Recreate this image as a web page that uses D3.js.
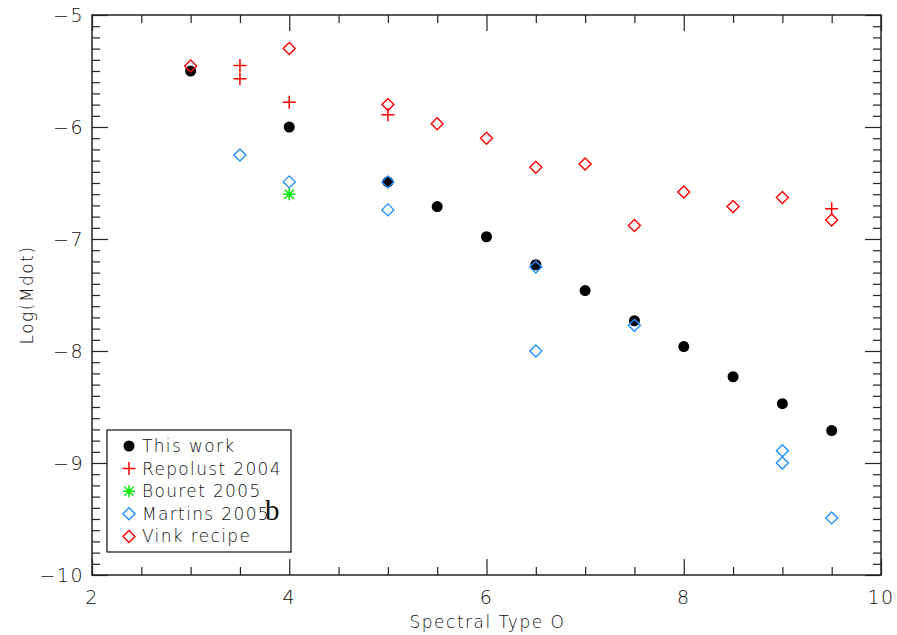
<!DOCTYPE html>
<html>
<head>
<meta charset="utf-8">
<script src="https://cdn.jsdelivr.net/npm/d3@7"></script>
<style>
  html, body { margin: 0; padding: 0; background: #fff; }
  svg text { font-family: "DejaVu Sans", "Liberation Sans", sans-serif; font-weight: 200; }
</style>
</head>
<body>
<svg id="chart" width="897" height="635"></svg>
<script>
// ---- data ----
const thisWorkX = [3, 4, 5, 5.5, 6, 6.5, 7, 7.5, 8, 8.5, 9, 9.5];
const thisWorkY = [-5.50, -6.00, -6.49, -6.71, -6.98, -7.23, -7.46, -7.73, -7.96, -8.23, -8.47, -8.71];

const repolustX = [3.5, 3.5, 4, 5, 9.5];
const repolustY = [-5.45, -5.57, -5.78, -5.89, -6.73];

const bouretX = [4];
const bouretY = [-6.60];

const martinsX = [3.5, 4, 5, 5, 6.5, 6.5, 7.5, 9, 9, 9.5];
const martinsY = [-6.25, -6.49, -6.49, -6.74, -7.25, -8.00, -7.77, -8.89, -9.00, -9.49];

const vinkX = [3, 4, 5, 5.5, 6, 6.5, 7, 7.5, 8, 8.5, 9, 9.5];
const vinkY = [-5.455, -5.30, -5.80, -5.97, -6.10, -6.36, -6.33, -6.88, -6.58, -6.71, -6.63, -6.83];

const xTicks = [2, 4, 6, 8, 10];
const yTicks = [-5, -6, -7, -8, -9, -10];
const legendLabels = ["This work", "Repolust 2004", "Bouret 2005", "Martins 2005", "Vink recipe"];
const xTitle = "Spectral Type O";
const yTitle = "Log(Mdot)";

// ---- layout ----
const svg = d3.select("#chart");
const L = 92, R = 881, T = 15, B = 575;
const x = d3.scaleLinear().domain([2, 10]).range([L, R]);
const y = d3.scaleLinear().domain([-10, -5]).range([B, T]);

const frameColor = "#222";
const textColor = "#111";
const majorLen = 16, minorLen = 8;

// minor ticks
const xMinor = d3.range(2, 10.0001, 0.5).filter(v => !xTicks.includes(v));
const yMinor = d3.range(-10, -4.999, 0.1).map(v => +v.toFixed(2)).filter(v => !yTicks.includes(v));

function fmt(d) { return d < 0 ? "\u2212" + Math.abs(d) : String(d); }

const gx = svg.append("g").attr("transform", `translate(0,${B})`)
  .call(d3.axisTop(x).tickValues(xTicks).tickSize(majorLen).tickFormat(""));
const gxm = svg.append("g").attr("transform", `translate(0,${B})`)
  .call(d3.axisTop(x).tickValues(xMinor).tickSize(minorLen).tickFormat(""));
const gxt = svg.append("g").attr("transform", `translate(0,${T})`)
  .call(d3.axisBottom(x).tickValues(xTicks).tickSize(majorLen).tickFormat(""));
const gxtm = svg.append("g").attr("transform", `translate(0,${T})`)
  .call(d3.axisBottom(x).tickValues(xMinor).tickSize(minorLen).tickFormat(""));
const gy = svg.append("g").attr("transform", `translate(${L},0)`)
  .call(d3.axisRight(y).tickValues(yTicks).tickSize(majorLen).tickFormat(""));
const gym = svg.append("g").attr("transform", `translate(${L},0)`)
  .call(d3.axisRight(y).tickValues(yMinor).tickSize(minorLen).tickFormat(""));
const gyr = svg.append("g").attr("transform", `translate(${R},0)`)
  .call(d3.axisLeft(y).tickValues(yTicks).tickSize(majorLen).tickFormat(""));
const gyrm = svg.append("g").attr("transform", `translate(${R},0)`)
  .call(d3.axisLeft(y).tickValues(yMinor).tickSize(minorLen).tickFormat(""));

[gx, gxm, gxt, gxtm, gy, gym, gyr, gyrm].forEach(g => {
  g.select(".domain").remove();
  g.selectAll(".tick line").attr("stroke", frameColor).attr("stroke-width", 1.2);
});

// frame
svg.append("rect").attr("x", L).attr("y", T).attr("width", R - L).attr("height", B - T)
  .attr("fill", "none").attr("stroke", frameColor).attr("stroke-width", 1.5);

// tick labels
const labelStyle = sel => sel.attr("font-size", 19).attr("fill", textColor).attr("letter-spacing", 1.5);
svg.append("g").selectAll("text").data(xTicks).join("text")
  .attr("x", d => x(d)).attr("y", B + 29).attr("text-anchor", "middle")
  .text(d => d).call(labelStyle);
svg.append("g").selectAll("text").data(yTicks).join("text")
  .attr("x", L - 8).attr("y", d => y(d) + 7).attr("text-anchor", "end")
  .text(fmt).call(labelStyle);

// axis titles
svg.append("text").attr("x", (L + R) / 2 + 1).attr("y", B + 53).attr("text-anchor", "middle")
  .attr("font-size", 17).attr("letter-spacing", 1.5).attr("fill", textColor).text(xTitle);
svg.append("text").attr("transform", `translate(33,${(T + B) / 2}) rotate(-90)`)
  .attr("text-anchor", "middle").attr("font-size", 17).attr("letter-spacing", 1.5)
  .attr("fill", textColor).text(yTitle);

// ---- marks ----
const RED = "#ff0000", BLUE = "#1e8fff", GREEN = "#00ee00";
const diamond = (cx, cy, r) => `M${cx},${cy - r}L${cx + r},${cy}L${cx},${cy + r}L${cx - r},${cy}Z`;
const plus = (cx, cy, r) => `M${cx - r},${cy}H${cx + r}M${cx},${cy - r}V${cy + r}`;
const star = (cx, cy, r) => {
  let p = plus(cx, cy, r);
  const a = r * 0.75;
  p += `M${cx - a},${cy - a}L${cx + a},${cy + a}M${cx - a},${cy + a}L${cx + a},${cy - a}`;
  return p;
};

const zip = (xs, ys) => xs.map((v, i) => [v, ys[i]]);

svg.append("g").selectAll("circle").data(zip(thisWorkX, thisWorkY)).join("circle")
  .attr("cx", d => x(d[0])).attr("cy", d => y(d[1])).attr("r", 5.5).attr("fill", "#000");

svg.append("g").selectAll("path").data(zip(martinsX, martinsY)).join("path")
  .attr("d", d => diamond(x(d[0]), y(d[1]), 6)).attr("fill", "none")
  .attr("stroke", BLUE).attr("stroke-width", 1.4);

svg.append("g").selectAll("path").data(zip(vinkX, vinkY)).join("path")
  .attr("d", d => diamond(x(d[0]), y(d[1]), 6)).attr("fill", "none")
  .attr("stroke", RED).attr("stroke-width", 1.4);

svg.append("g").selectAll("path").data(zip(repolustX, repolustY)).join("path")
  .attr("d", d => plus(x(d[0]), y(d[1]), 6.5)).attr("fill", "none")
  .attr("stroke", RED).attr("stroke-width", 1.5);

svg.append("g").selectAll("path").data(zip(bouretX, bouretY)).join("path")
  .attr("d", d => star(x(d[0]), y(d[1]), 6)).attr("fill", "none")
  .attr("stroke", GREEN).attr("stroke-width", 1.5);

// ---- legend ----
const lg = svg.append("g");
lg.append("rect").attr("x", 107).attr("y", 430).attr("width", 184).attr("height", 122)
  .attr("fill", "#fff").attr("stroke", frameColor).attr("stroke-width", 1.3);
const rowY = i => 446 + i * 22.6;
const symX = 129;
legendLabels.forEach((lab, i) => {
  const cy = rowY(i);
  if (i === 0) lg.append("circle").attr("cx", symX).attr("cy", cy).attr("r", 5.5).attr("fill", "#000");
  if (i === 1) lg.append("path").attr("d", plus(symX, cy, 6.5)).attr("stroke", RED).attr("stroke-width", 1.5);
  if (i === 2) lg.append("path").attr("d", star(symX, cy, 6)).attr("stroke", GREEN).attr("stroke-width", 1.5);
  if (i === 3) lg.append("path").attr("d", diamond(symX, cy, 6)).attr("fill", "none").attr("stroke", BLUE).attr("stroke-width", 1.4);
  if (i === 4) lg.append("path").attr("d", diamond(symX, cy, 6)).attr("fill", "none").attr("stroke", RED).attr("stroke-width", 1.4);
  lg.append("text").attr("x", 142).attr("y", cy + 6).attr("font-size", 17)
    .attr("letter-spacing", 1.35).attr("fill", textColor).text(lab);
});
// stray serif "b" (overlaps "2005" in the original figure)
svg.append("text").attr("x", 265).attr("y", 520).attr("font-size", 29)
  .style("font-family", '"Liberation Serif", "DejaVu Serif", serif').style("font-weight", "normal")
  .attr("fill", "#111").text("b");
</script>
</body>
</html>
